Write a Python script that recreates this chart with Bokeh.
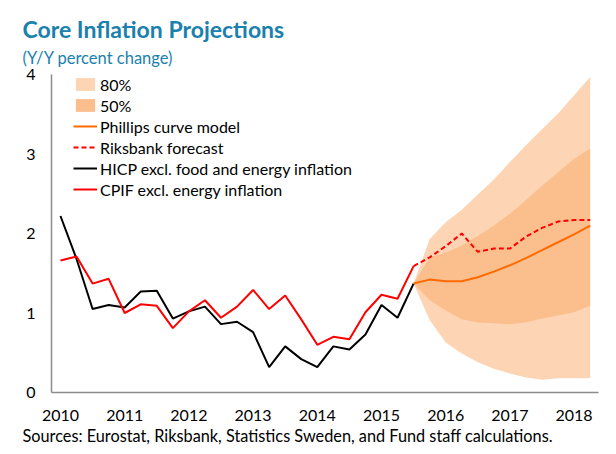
from bokeh.plotting import figure
from bokeh.models import Legend, LegendItem, Title, FixedTicker, Range1d
from bokeh.embed import file_html
from bokeh.resources import INLINE

# ---- data ----
hist_x = [2010 + i * 0.25 for i in range(23)]  # 2010Q1 .. 2015Q3
hicp = [2.22, 1.68, 1.05, 1.10, 1.07, 1.27, 1.28, 0.93, 1.02, 1.08, 0.86, 0.89,
        0.76, 0.32, 0.58, 0.42, 0.32, 0.58, 0.54, 0.73, 1.10, 0.94, 1.37]
cpif = [1.66, 1.71, 1.37, 1.43, 1.00, 1.11, 1.09, 0.81, 1.02, 1.16, 0.94, 1.08,
        1.29, 1.05, 1.22, 0.92, 0.60, 0.70, 0.67, 1.01, 1.23, 1.18, 1.59]

fc_x = [2015.5 + i * 0.25 for i in range(12)]  # 2015Q3 .. 2018Q2
riksbank = [1.59, 1.70, 1.84, 2.00, 1.77, 1.81, 1.81, 1.96, 2.07, 2.15, 2.17, 2.17]
phillips = [1.37, 1.42, 1.40, 1.40, 1.45, 1.52, 1.60, 1.69, 1.79, 1.89, 1.99, 2.10]
upper80 = [1.37, 1.93, 2.14, 2.30, 2.49, 2.68, 2.90, 3.11, 3.31, 3.51, 3.74, 3.97]
lower80 = [1.37, 0.91, 0.63, 0.49, 0.38, 0.30, 0.24, 0.19, 0.16, 0.18, 0.18, 0.18]
upper50 = [1.37, 1.70, 1.76, 1.85, 1.97, 2.10, 2.25, 2.42, 2.60, 2.77, 2.94, 3.07]
lower50 = [1.37, 1.16, 1.03, 0.92, 0.88, 0.87, 0.86, 0.88, 0.93, 0.97, 1.01, 1.09]

year_ticks = [2010, 2011, 2012, 2013, 2014, 2015, 2016, 2017, 2018]
y_ticks = [0, 1, 2, 3, 4]

FONT = "Lato"
BLUE = "#1a80ae"

p = figure(width=608, height=446, output_backend="svg", toolbar_location=None,
           x_range=Range1d(2009.86, 2018.38), y_range=Range1d(0, 4),
           min_border_left=51, min_border_right=10, min_border_top=74,
           min_border_bottom=54)
p.title = None
p.outline_line_color = None
p.grid.visible = False
p.background_fill_color = "white"
p.border_fill_color = "white"

r80 = p.varea(x=fc_x, y1=lower80, y2=upper80, fill_color="#fdd5b4")
r50 = p.varea(x=fc_x, y1=lower50, y2=upper50, fill_color="#fbbf8e")
r_hicp = p.line(hist_x, hicp, line_color="black", line_width=2)
r_cpif = p.line(hist_x, cpif, line_color="#ff0000", line_width=2)
r_ph = p.line(fc_x, phillips, line_color="#ff6a00", line_width=2)
r_rb = p.line(fc_x, riksbank, line_color="#ff0000", line_width=2, line_dash="5 3")

for ax in (p.xaxis[0], p.yaxis[0]):
    ax.axis_line_color = "#8c8c8c"
    ax.axis_line_width = 1.5
    ax.major_tick_line_color = None
    ax.minor_tick_line_color = None
    ax.major_label_text_font = FONT
    ax.major_label_text_font_size = "16px"
    ax.major_label_text_color = "black"
p.xaxis[0].ticker = FixedTicker(ticks=year_ticks)
p.yaxis[0].ticker = FixedTicker(ticks=y_ticks)
p.xaxis[0].major_label_standoff = 11
p.yaxis[0].major_label_standoff = 10

legend = Legend(items=[
    LegendItem(label="80%", renderers=[r80]),
    LegendItem(label="50%", renderers=[r50]),
    LegendItem(label="Phillips curve model", renderers=[r_ph]),
    LegendItem(label="Riksbank forecast", renderers=[r_rb]),
    LegendItem(label="HICP excl. food and energy inflation", renderers=[r_hicp]),
    LegendItem(label="CPIF excl. energy inflation", renderers=[r_cpif]),
], location=(22, 193), orientation="vertical")
legend.background_fill_alpha = 0
legend.border_line_color = None
legend.padding = 0
legend.margin = 0
legend.spacing = 1
legend.glyph_width = 24
legend.glyph_height = 16
legend.label_height = 20
legend.label_standoff = 3
legend.label_text_font = FONT
legend.label_text_font_size = "16px"
legend.label_text_color = "black"
p.add_layout(legend, "center")

src = Title(text="Sources: Eurostat, Riksbank, Statistics Sweden, and Fund staff calculations.",
            text_font=FONT, text_font_size="16.3px", text_font_style="normal",
            text_color="black", align="left", offset=-29, standoff=0)
p.add_layout(src, "below")

sub = Title(text="(Y/Y percent change)", text_font=FONT, text_font_size="16.5px",
            text_font_style="normal", text_color=BLUE, align="left", offset=-29,
            standoff=10, vertical_align="top")
p.add_layout(sub, "above")
main = Title(text="Core Inflation Projections", text_font=FONT, text_font_size="23px",
             text_font_style="bold", text_color=BLUE, align="left", offset=-29,
             standoff=0, vertical_align="bottom")
p.add_layout(main, "above")

open("out.html", "w").write(file_html(p, INLINE))
